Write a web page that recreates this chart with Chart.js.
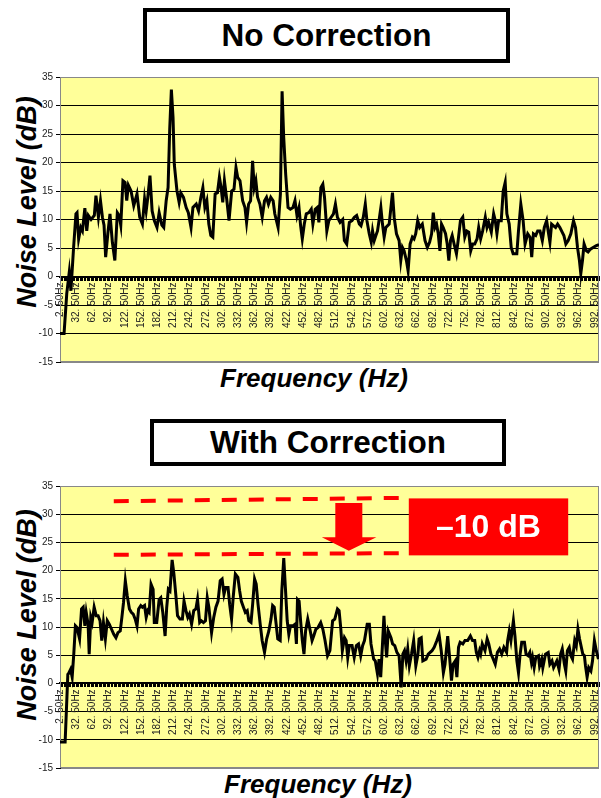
<!DOCTYPE html>
<html>
<head>
<meta charset="utf-8">
<script src="https://cdn.jsdelivr.net/npm/chart.js@4.4.1/dist/chart.umd.min.js"></script>
<style>
  body { margin: 0; background: #fff; width: 601px; height: 798px; position: relative; overflow: hidden;
         font-family: "Liberation Sans", Arial, sans-serif; }
  .box { position: absolute; border: 4px solid #000; background: #fff; box-sizing: border-box;
         display: flex; align-items: center; justify-content: center; font-weight: bold; font-size: 31.5px; }
  .ytitle { position: absolute; font-weight: bold; font-style: italic; font-size: 27px; white-space: nowrap;
            transform: translate(-50%, -50%) rotate(-90deg); }
  .xtitle { position: absolute; font-weight: bold; font-style: italic; font-size: 26px; white-space: nowrap;
            transform: translate(-50%, -50%); }
  canvas { position: absolute; left: 0; }
</style>
</head>
<body>
<div class="box" style="left:143px;top:8px;width:367px;height:55px;">No Correction</div>
<div class="ytitle" style="left:27px;top:202px;">Noise Level (dB)</div>
<div class="xtitle" style="left:314px;top:378px;">Frequency (Hz)</div>
<canvas id="top" width="601" height="400" style="top:0"></canvas>

<div class="box" style="left:150px;top:419px;width:356px;height:47px;">With Correction</div>
<div class="ytitle" style="left:27px;top:615px;">Noise Level (dB)</div>
<div class="xtitle" style="left:318px;top:784px;">Frequency (Hz)</div>
<canvas id="bottom" width="601" height="398" style="top:400px"></canvas>

<script>
// x-axis label positions (Hz)
const xLabelFreqs = [2.5, 32.5, 62.5, 92.5, 122.5, 152.5, 182.5, 212.5, 242.5, 272.5, 302.5, 332.5,
  362.5, 392.5, 422.5, 452.5, 482.5, 512.5, 542.5, 572.5, 602.5, 632.5, 662.5, 692.5, 722.5,
  752.5, 782.5, 812.5, 842.5, 872.5, 902.5, 932.5, 962.5, 992.5];
const yTicks = [-15, -10, -5, 0, 5, 10, 15, 20, 25, 30, 35];

// No Correction
const freqTop = [2.5, 10, 15, 19.7, 22.7, 27.6, 32, 34, 37, 41, 44, 48.5, 52, 55, 60, 66, 69, 73.6, 77.4, 81,
  84, 87, 91, 95, 99.4, 104, 108.6, 112, 115, 119, 123, 126, 129, 134, 139, 145, 150, 155, 159, 162,
  165, 169, 173, 177, 182, 186, 191, 194.5, 199, 202.5, 205.6, 208.6, 211.7, 214, 219, 223, 226, 231, 236, 240,
  245, 248.5, 254.6, 258.9, 263.2, 266.9, 270.6, 274.3, 277.9, 281.6, 285.3, 289.6, 293.9, 297.5, 300.6, 303.7, 306.8, 311, 315.3, 320.2,
  324.5, 328.2, 331.3, 335.6, 340.5, 344.8, 347.8, 351.5, 355.2, 358.9, 362, 365, 368.1, 372.4, 376.7, 381, 384.7, 388.3, 392.6, 396.9,
  400, 406.1, 410.4, 413.5, 416.5, 420.2, 424.5, 428.8, 433.7, 437.4, 441.1, 444.8, 447.8, 450.9, 454.6, 458.3, 463.2, 467.5, 470.5, 474.8,
  478.5, 481.6, 485.3, 488.9, 492, 496.3, 500, 504.3, 508.6, 512.2, 515.9, 520.8, 525.7, 528.8, 533.1, 538, 542.9, 547.2, 551.5, 556.4,
  559.5, 563.8, 567.5, 570.5, 574.8, 578.5, 580.9, 584, 587.1, 590.1, 593.2, 596.3, 599.3, 602.4, 605.5, 611.7, 617.8, 620.9, 625.2, 630.1,
  633.2, 636.2, 639.3, 643.6, 646.7, 650.4, 654.6, 657.7, 660.8, 664.5, 668.1, 673, 678, 682.3, 686.5, 690.2, 693.3, 696.4, 699.4, 702.5,
  705.6, 708.6, 711.7, 716, 719.1, 722.1, 725.2, 728.3, 732.6, 736.2, 739.3, 743.6, 747.9, 751.6, 755.3, 758.9, 762.6, 766.3, 770, 774.3,
  777.3, 781, 784.7, 789.6, 792.7, 795.8, 800.7, 805, 808, 811.1, 814.2, 819.1, 822.7, 826.4, 829.5, 833.8, 837.5, 841.1, 847.9, 851,
  855.3, 859.6, 863.2, 868.1, 872.4, 875.5, 878.6, 882.9, 886.5, 890.8, 895.1, 898.8, 903.1, 906.2, 909.2, 912.3, 916, 919.7, 923.4, 927.6,
  930.7, 935, 938.7, 943, 947.9, 952.8, 956.5, 960.2, 963.8, 966.3, 969.4, 972.4, 976.7, 979.8, 984.1, 989, 995.1, 1000];
const levelTop = [-10, -10, -3, 0.8, -2.5, 5, 11, 11.2, 6.6, 8.6, 8, 12, 8, 10.7, 10, 10.7, 14.2, 10.4, 13.3, 10.4,
  9, 3.4, 7.5, 11, 6, 2.8, 11.2, 10.7, 9, 16.8, 16.5, 13.3, 16, 15, 12.4, 14.5, 10.4, 9.2, 13.6, 11.5,
  13.9, 17.7, 11.5, 9.8, 8.6, 11.2, 9, 8.6, 13.3, 15.6, 26, 32.8, 27.9, 19.7, 15, 13, 14.7, 13.9, 12.1, 11.2,
  8.6, 12.1, 12.7, 11.5, 13.9, 15.6, 12.1, 13.3, 9.2, 7.2, 6.9, 14.5, 14.7, 17.4, 15.6, 13, 16.8, 13.6, 9.8, 15,
  15.3, 19.1, 17.4, 16.8, 13.3, 12.1, 9.5, 12.7, 13.3, 20.3, 15.6, 16.8, 13.9, 12.7, 10.4, 13.3, 13.9, 12.7, 13.9, 13.3,
  11, 8.6, 14.5, 32.5, 24.4, 17.9, 12.1, 11.8, 12.1, 13.3, 10.7, 12.1, 8.9, 6.6, 9.2, 11, 11.2, 11.8, 9.2, 11.8,
  12.1, 9.5, 15.6, 16.2, 13.9, 8, 9.8, 10.4, 11, 12.7, 10.4, 9.5, 10, 6.3, 5.7, 9.5, 9.8, 10.4, 10.7, 9.2,
  8.9, 10.4, 12.7, 9.8, 7.5, 6, 8, 6.3, 7.2, 8, 10, 12.1, 9.2, 6.9, 8.6, 9.2, 14.7, 10.4, 7.5, 6.3,
  2.8, 5.1, 4.5, 2.8, 1, 5.7, 6.9, 6.6, 7.5, 9.8, 8.6, 9.2, 6.3, 5.1, 6, 7.5, 11.2, 8.6, 9.2, 7.5,
  4.5, 9.2, 8.6, 7.5, 5.7, 2.8, 6.3, 7.2, 5.4, 4, 6.3, 9.8, 10.4, 6.9, 8, 7.8, 4.5, 5.7, 5.7, 6.6,
  8.6, 6.6, 8, 10.4, 8.6, 9.5, 7.8, 11, 9.8, 7.5, 9.8, 9.8, 15, 16.5, 11, 9.2, 5.1, 4, 4, 8,
  12.7, 9.8, 5.7, 7.5, 6.9, 3.4, 7.5, 7.2, 8, 8, 6.3, 8.6, 9.8, 7.8, 6, 9.2, 8.9, 8.6, 9.2, 8.6,
  8, 7.2, 5.7, 6.3, 7.5, 9.8, 8.6, 5.1, 2.8, 0.5, 2.8, 5.7, 4.5, 4.3, 4.8, 5.1, 5.4, 5.6];

// With Correction
const freqBottom = [2.5, 12, 17, 18, 22, 25, 28, 31, 34, 38.7, 42.4, 45.4, 48.5, 51, 54.5, 56.5, 59.5, 62, 65.7, 69.5,
  73, 76.6, 79.8, 82.9, 86.5, 90, 93.7, 97.9, 102, 106, 109.7, 114, 117, 120, 123.4, 127, 131, 134.5, 138, 141.7,
  145, 148, 152, 155, 159, 162, 165, 167.5, 171, 174.8, 177, 181.5, 186, 189, 192.7, 197, 200, 203, 206, 210,
  213.3, 217, 220, 224.5, 229, 232, 235.6, 239, 242, 246, 250, 254, 257, 261, 264, 268, 271.7, 275, 278, 283,
  287, 291, 295, 299, 302.5, 306, 309, 313.5, 316.5, 320, 323, 327, 331.7, 335, 338, 342, 345.5, 349, 352, 356,
  359, 362.6, 365.6, 369, 373, 376.6, 381, 385, 389, 393, 396, 399, 402.5, 405.5, 410, 413, 416.6, 419.6, 423, 426,
  429, 433.5, 437.5, 440, 442, 445, 448, 451, 454, 457, 461, 465, 469, 472, 476, 480, 485, 489, 493, 497.6,
  502, 507, 511, 516, 519, 522, 525, 529, 532, 535, 538, 543, 547, 551, 555, 559, 562.5, 566, 571, 575,
  578, 583, 586, 590, 593, 596, 599, 602, 605, 607, 610, 615, 618, 622, 626, 630, 634, 637, 640, 643,
  646, 649, 653, 657, 661, 665, 667, 671, 674, 680, 684, 691, 695, 700, 704, 708, 712, 715, 720, 723,
  727, 730, 734, 737, 740, 743, 748, 752, 757, 762, 766, 770, 773, 776, 779, 781, 784, 789, 793, 796,
  800, 803, 808, 812, 816, 820, 824, 829, 831, 834, 837, 841.6, 844.5, 848, 851, 854, 857, 862, 865, 869,
  872, 875, 877, 880, 883, 888, 890, 894, 896, 901, 906, 909, 913, 916, 922, 926, 929, 932, 936, 938.5,
  941.5, 945, 948, 951, 955, 958, 961, 964, 970, 973, 975, 978, 981, 985, 988, 991.5, 995, 999];
const levelBottom = [-10.4, -10.4, 1.6, 1.7, 2.5, 1.1, 5.2, 10.2, 9.9, 7.9, 13.2, 13.5, 10.2, 12.6, 10.5, 5.2, 11.7, 10.8, 13.5, 12,
  12, 11.1, 7.6, 10.8, 7.9, 11.1, 10.5, 9.6, 8.7, 8.1, 9, 9.3, 11.7, 14.3, 18.2, 15.5, 13.2, 12.6, 12.3, 11.4,
  10.2, 13.2, 13.8, 13.5, 13.8, 11.7, 12.9, 12.6, 17.6, 16.7, 10.8, 10.8, 14.9, 15.2, 12.6, 8.4, 13.5, 16.7, 16.4, 21.9,
  19.4, 15.5, 12, 11.4, 11.4, 14.6, 12.9, 11.7, 12.3, 10.5, 12.9, 13.2, 14.9, 10.8, 11.1, 10.8, 11.1, 15.2, 13.5, 9,
  11.7, 13.5, 14.6, 18.2, 18.5, 15.8, 17, 17, 14, 11.4, 15.2, 19.4, 18.8, 16.4, 14.6, 13.5, 12.6, 12.9, 11.1, 10.8,
  14, 18.5, 17.6, 14, 10.5, 7.6, 5.5, 7.9, 9.3, 11.4, 13.8, 13.5, 10.5, 7.9, 7.6, 16.4, 22.2, 17, 11.1, 8.7,
  10.2, 10.2, 10.5, 7, 14.9, 14.6, 10.8, 7.6, 5.2, 9.3, 11.4, 9.6, 7.6, 8.4, 9.6, 9.9, 10.8, 9.6, 7.6, 4.9,
  5.8, 11.1, 11.4, 13.2, 12.9, 9.9, 5.8, 8.1, 7.6, 4.6, 6.7, 6.7, 4.6, 6.7, 7, 4.9, 6.7, 7.6, 10.5, 10.5,
  7, 4.3, 4, 1.7, 4.3, 1.1, 6.4, 12, 7, 4.6, 9.3, 8.1, 7, 6.7, 5.5, 4.9, -0.7, 5.2, 5.8, 4,
  6.1, 3.1, 5.2, 7.6, 3.1, 5.2, 7.9, 8.1, 4, 4.3, 5.2, 5.8, 6.4, 7.6, 8.7, 5.8, 1.9, 3.4, 8.4, 5.2,
  0.5, 3.4, 4, 1.1, 6.4, 7.3, 7, 7.6, 7.6, 8.4, 7.6, 7.6, 5.5, 4.6, 5.8, 5.2, 7, 5.8, 7.9, 7,
  5.2, 4.6, 3.4, 5.5, 6.1, 5.2, 6.4, 5.5, 7.6, 9.3, 7.6, 11.1, 8.4, 4, 1.9, 5.2, 7.3, 7.3, 5.2, 4.9,
  5.5, 3.7, 4.6, 2.8, 4.6, 4.9, 3.1, 4.3, 2.8, 5.2, 5.5, 3.4, 4, 2.8, 4, 2.5, 5.2, 6.1, 3.4, 2.2,
  5.8, 6.4, 4.9, 4.3, 7.6, 6.7, 9.6, 7.9, 5.2, 4.9, 3.1, 1.1, 2.8, 2.2, 4, 7.6, 5.8, 4.3];

// red dashed guide lines in the corrected chart (before / after levels)
const guideFreqs = [102, 645];
const guideUpper = [32.3, 32.9];
const guideLower = [22.8, 23.1];

const FONT = '"Liberation Sans", Arial, sans-serif';

const plotArea = {
  id: 'plotArea',
  beforeDraw(chart) {
    const { ctx, chartArea: a } = chart;
    ctx.save();
    ctx.fillStyle = '#FFFF99';
    ctx.fillRect(a.left, a.top, a.width, a.height);
    ctx.restore();
  },
  beforeDatasetsDraw(chart) {
    const { ctx, chartArea: a } = chart;
    ctx.save();
    ctx.strokeStyle = '#888';
    ctx.lineWidth = 1;
    ctx.strokeRect(a.left + 0.5, a.top + 0.5, a.width - 1, a.height - 1);
    ctx.restore();
  },
};

const dropMark = {
  id: 'dropMark',
  afterDatasetsDraw(chart) {
    const { ctx, scales: { x, y } } = chart;
    ctx.save();
    // arrow
    const pts = [[512, 32], [562, 32], [562, 25.9], [588, 25.9], [537, 23.5], [487, 25.9], [512, 25.9]];
    ctx.fillStyle = '#FF0000';
    ctx.beginPath();
    pts.forEach(([f, v], i) => {
      const px = x.getPixelForValue(f), py = y.getPixelForValue(v);
      i ? ctx.lineTo(px, py) : ctx.moveTo(px, py);
    });
    ctx.closePath();
    ctx.fill();
    // label box
    const l = x.getPixelForValue(648), r = x.getPixelForValue(943);
    const t = y.getPixelForValue(32.8), b = y.getPixelForValue(22.7);
    ctx.fillRect(l, t, r - l, b - t);
    ctx.fillStyle = '#fff';
    ctx.font = 'bold 32px ' + FONT;
    ctx.textAlign = 'center';
    ctx.textBaseline = 'middle';
    ctx.fillText('\u201310 dB', (l + r) / 2, (t + b) / 2 + 1);
    ctx.restore();
  },
};

function noiseChart(canvas, freqs, levels, extra, pad, plugins) {
  const datasets = [{
    data: freqs.map((f, i) => ({ x: f, y: levels[i] })),
    borderColor: '#000',
    borderWidth: 3,
    pointRadius: 0,
    tension: 0,
  }].concat(extra);

  return new Chart(canvas, {
    type: 'line',
    data: { datasets },
    options: {
      responsive: false,
      animation: false,
      layout: { padding: pad },
      plugins: { legend: { display: false }, tooltip: { enabled: false } },
      scales: {
        x: {
          type: 'linear',
          position: { y: 0 },
          min: 2.5,
          max: 1000,
          afterBuildTicks: (s) => {
            const ticks = [];
            for (let f = 2.5; f <= 1000; f += 2.5) ticks.push({ value: f });
            s.ticks = ticks;
          },
          afterFit: (s) => { s.height = 0; s.paddingLeft = 0; s.paddingRight = 0; },
          ticks: {
            autoSkip: false,
            minRotation: 90,
            maxRotation: 90,
            padding: 3,
            color: '#222',
            font: { family: FONT, size: 10 },
            callback: (v) => (xLabelFreqs.includes(v) ? v.toFixed(2).replace('.', '. ') + 'Hz' : ''),
          },
          grid: { drawOnChartArea: false, tickLength: 3, color: '#000' },
          border: { color: '#000', width: 2 },
        },
        y: {
          min: -15,
          max: 35,
          afterBuildTicks: (s) => { s.ticks = yTicks.map((v) => ({ value: v })); },
          afterFit: (s) => { s.width = 60; },
          ticks: { color: '#222', padding: 3, font: { family: FONT, size: 10 } },
          grid: {
            color: (c) => (c.tick && (c.tick.value === 35 || c.tick.value === -15) ? '#888' : '#000'),
            tickColor: '#000',
            tickLength: 4,
          },
          border: { color: '#000', width: 1 },
        },
      },
    },
    plugins: [plotArea].concat(plugins || []),
  });
}

noiseChart(document.getElementById('top'), freqTop, levelTop, [],
  { top: 77, bottom: 38, left: 0, right: 2 });

const guideStyle = { borderColor: '#FF0000', borderWidth: 4, borderDash: [15, 12], pointRadius: 0 };
noiseChart(document.getElementById('bottom'), freqBottom, levelBottom, [
  Object.assign({ data: guideFreqs.map((f, i) => ({ x: f, y: guideUpper[i] })) }, guideStyle),
  Object.assign({ data: guideFreqs.map((f, i) => ({ x: f, y: guideLower[i] })) }, guideStyle),
], { top: 86, bottom: 30, left: 0, right: 2 }, [dropMark]);
</script>
</body>
</html>
